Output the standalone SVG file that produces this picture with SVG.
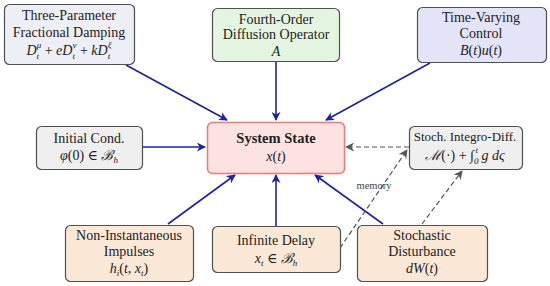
<svg xmlns="http://www.w3.org/2000/svg" width="550" height="286" viewBox="0 0 550 286" font-family="'Liberation Serif', 'DejaVu Serif', serif">
<defs>
<marker id="ab" viewBox="0 0 10 10" refX="9" refY="5" markerWidth="9" markerHeight="9" markerUnits="userSpaceOnUse" orient="auto">
<path d="M0,0 L10,5 L0,10 L3,5 Z" fill="#1c22a0"/>
</marker>
<marker id="ag" viewBox="0 0 10 10" refX="9" refY="5" markerWidth="9" markerHeight="9" markerUnits="userSpaceOnUse" orient="auto">
<path d="M0,0 L10,5 L0,10 L3,5 Z" fill="#555"/>
</marker>
<style>
.box{stroke:#505050;stroke-width:1.2}
text{font-family:'Liberation Serif','DejaVu Serif',serif}
.t{font-size:14px;fill:#222;text-anchor:middle}
.m{font-style:italic}
.s{font-size:9px}
.b{stroke:#1c22a0;stroke-width:1.6;fill:none;marker-end:url(#ab)}
.d{stroke:#555;stroke-width:1.2;stroke-dasharray:5,3;fill:none;marker-end:url(#ag)}
</style>
</defs>
<g id="connectors">
<line class="b" x1="126" y1="65" x2="227" y2="120"/>
<line class="b" x1="276" y1="61" x2="276" y2="120"/>
<line class="b" x1="430" y1="63" x2="326" y2="120"/>
<line class="b" x1="142" y1="147" x2="205" y2="147"/>
<line class="b" x1="168" y1="224" x2="235" y2="175"/>
<line class="b" x1="276" y1="226" x2="276" y2="175"/>
<line class="b" x1="383" y1="224" x2="315" y2="175"/>
<line class="d" x1="409" y1="147" x2="346" y2="147"/>
<line class="d" x1="340" y1="248" x2="407" y2="150"/>
<line class="d" x1="422" y1="224" x2="462" y2="171"/>
<text class="t" x="374" y="189" style="font-size:10.5px;fill:#444">memory</text>
</g>
<g id="damping">
<rect class="box" x="4.5" y="4.5" width="130" height="60" rx="5" fill="#eeeff6"/>
<text class="t" x="69" y="20">Three-Parameter</text>
<text class="t" x="69" y="37">Fractional Damping</text>
<text class="t" x="69" y="55"><tspan class="m">D</tspan><tspan class="s m" dy="4">t</tspan><tspan class="s m" dx="-2.5" dy="-11">μ</tspan><tspan dy="7"> + </tspan><tspan class="m">eD</tspan><tspan class="s m" dy="4">t</tspan><tspan class="s m" dx="-2.5" dy="-11">ν</tspan><tspan dy="7"> + </tspan><tspan class="m">kD</tspan><tspan class="s m" dy="4">t</tspan><tspan class="s m" dx="-2.5" dy="-11">ξ</tspan></text>
</g>
<g id="diffusion">
<rect class="box" x="212.5" y="8.5" width="127" height="53" rx="5" fill="#e4f6e2"/>
<text class="t" x="276" y="24">Fourth-Order</text>
<text class="t" x="276" y="39">Diffusion Operator</text>
<text class="t m" x="276" y="56">A</text>
</g>
<g id="control">
<rect class="box" x="417.5" y="7.5" width="129" height="55" rx="5" fill="#e4e4f8"/>
<text class="t" x="481" y="22">Time-Varying</text>
<text class="t" x="481" y="38">Control</text>
<text class="t" x="481" y="55"><tspan class="m">B</tspan>(<tspan class="m">t</tspan>)<tspan class="m">u</tspan>(<tspan class="m">t</tspan>)</text>
</g>
<g id="initial">
<rect class="box" x="36.5" y="126.5" width="106" height="43" rx="5" fill="#efefef"/>
<text class="t" x="89" y="143">Initial Cond.</text>
<text class="t" x="89" y="160"><tspan class="m">φ</tspan>(0) ∈ <tspan class="m">ℬ</tspan><tspan class="s m" dy="3">h</tspan></text>
</g>
<g id="state">
<rect x="207.5" y="122.5" width="137" height="51" rx="5" fill="#fde2e2" stroke="#f07878" stroke-width="1.5"/>
<text class="t" x="276" y="143" style="font-weight:bold;font-size:14.5px">System State</text>
<text class="t" x="276" y="161"><tspan class="m">x</tspan>(<tspan class="m">t</tspan>)</text>
</g>
<g id="integro">
<rect class="box" x="409.5" y="126.5" width="113" height="43" rx="5" fill="#efefef"/>
<text class="t" x="465" y="140.5" style="font-size:13px">Stoch. Integro-Diff.</text>
<text class="t" x="465" y="160"><tspan class="m">ℳ</tspan>(·) + ∫<tspan class="s m" dy="4">0</tspan><tspan class="s m" dx="-3" dy="-11">t</tspan><tspan class="m" dy="7"> g dς</tspan></text>
</g>
<g id="impulses">
<rect class="box" x="65.5" y="225.5" width="128" height="56" rx="5" fill="#fce8d6"/>
<text class="t" x="129" y="240">Non-Instantaneous</text>
<text class="t" x="129" y="256">Impulses</text>
<text class="t" x="129" y="273"><tspan class="m">h</tspan><tspan class="s m" dy="3">i</tspan><tspan dy="-3">(</tspan><tspan class="m">t</tspan>, <tspan class="m">x</tspan><tspan class="s m" dy="3">t</tspan><tspan dy="-3">)</tspan></text>
</g>
<g id="delay">
<rect class="box" x="212.5" y="226.5" width="128" height="46" rx="5" fill="#fce8d6"/>
<text class="t" x="276" y="245">Infinite Delay</text>
<text class="t" x="276" y="263"><tspan class="m">x</tspan><tspan class="s m" dy="3">t</tspan><tspan dy="-3"> ∈ </tspan><tspan class="m">ℬ</tspan><tspan class="s m" dy="3">h</tspan></text>
</g>
<g id="disturbance">
<rect class="box" x="357.5" y="225.5" width="130" height="56" rx="5" fill="#fce8d6"/>
<text class="t" x="422" y="240">Stochastic</text>
<text class="t" x="422" y="256">Disturbance</text>
<text class="t" x="422" y="273"><tspan class="m">dW</tspan>(<tspan class="m">t</tspan>)</text>
</g>
</svg>
